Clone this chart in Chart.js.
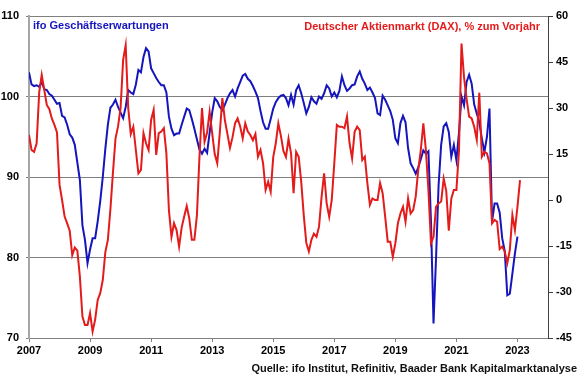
<!DOCTYPE html>
<html>
<head>
<meta charset="utf-8">
<script src="https://cdn.jsdelivr.net/npm/chart.js@4.4.0/dist/chart.umd.min.js"></script>
<style>
    body { margin: 0; background: #fff; }
    #wrap { width: 580px; height: 376px; }
</style>
</head>
<body>
<div id="wrap"><canvas id="chart" width="580" height="376"></canvas></div>
<script>
// Monatswerte ab Januar 2007
const startYear = 2007;

// ifo Geschäftserwartungen (linke Achse)
const ifoExpectations = [
    103.0, 101.5, 101.3, 101.4, 101.2, 101.8, 100.9, 100.8, 100.3, 100.1, 99.6, 99.1,
    99.2, 97.6, 97.4, 96.5, 95.3, 94.9, 94.0, 91.8, 89.6, 84.0, 82.2, 79.3,
    81.0, 82.4, 82.4, 84.5, 87.0, 90.0, 93.5, 96.5, 98.6, 99.0, 99.6, 98.7,
    98.0, 97.3, 98.7, 100.8, 100.5, 100.3, 101.5, 103.3, 103.0, 104.9, 106.0, 105.6,
    103.5, 102.9, 102.3, 101.8, 101.4, 101.4, 100.5, 97.5, 96.0, 95.2, 95.4, 95.4,
    96.5, 97.5, 98.5, 98.3, 97.2, 96.0, 94.7, 93.4, 92.9, 93.5, 93.0, 95.5,
    98.0, 99.8, 99.4, 98.7, 98.3, 99.0, 99.8, 100.4, 100.8, 100.0, 101.0, 101.8,
    102.6, 102.8, 102.2, 101.9, 101.3, 100.6, 99.8, 98.2, 96.8, 96.0, 96.0, 97.2,
    98.5, 99.3, 99.8, 100.1, 100.2, 99.8, 98.9, 100.2, 99.0, 100.8, 101.4, 100.4,
    99.2, 97.9, 98.7, 99.9, 99.4, 99.1, 100.0, 99.7, 100.4, 101.4, 101.0, 100.0,
    100.5, 99.9, 100.7, 102.5, 101.4, 100.7, 101.0, 101.4, 101.5, 102.5, 103.1, 102.2,
    101.6, 100.8, 101.1, 100.5, 99.8, 97.9, 97.7, 100.1, 99.6, 98.9, 98.2, 97.1,
    94.8, 94.2, 96.7, 97.6, 96.8, 93.6, 91.7, 91.1, 90.4, 91.2, 92.2, 93.3,
    92.9, 93.2, 84.5, 71.8, 80.0, 89.0, 94.0, 96.3, 96.7, 95.6, 92.5, 94.0,
    92.1, 95.5, 100.0, 98.9, 101.8, 102.7, 101.6, 99.0, 97.9, 96.8, 94.8, 93.1,
    95.0, 98.5, 84.5, 86.7, 86.7, 85.6, 82.4, 80.8, 75.3, 75.5, 78.0, 80.5,
    82.6
];

// DAX, % zum Vorjahr (rechte Achse)
const daxYoY = [
    21.2, 16.3, 15.7, 18.5, 35.0, 40.8, 35.9, 31.0, 29.6, 26.5, 24.5, 22.0,
    5.0, 0.0, -5.4, -7.6, -10.0, -18.0, -15.5, -16.5, -25.0, -38.0, -40.8, -40.8,
    -36.9, -42.9, -39.0, -32.6, -30.4, -26.1, -17.0, -13.0, -3.0, 9.0, 20.0, 24.0,
    30.0, 45.7, 50.5, 30.0, 21.5, 23.9, 16.3, 8.7, 9.8, 21.8, 18.5, 16.3,
    26.1, 29.4, 14.7, 21.8, 22.3, 23.4, 15.2, -3.3, -12.0, -7.6, -9.8, -15.2,
    -9.0, -5.4, -2.0, -6.0, -13.0, -13.0, -5.0, 14.0, 30.0, 19.0, 22.0, 28.8,
    21.8, 15.0, 12.0, 22.0, 33.2, 26.0, 21.5, 17.0, 20.5, 25.0, 26.6, 24.0,
    20.1, 25.0, 22.3, 21.2, 19.5, 21.5, 14.1, 16.3, 12.0, 3.3, 6.0, 2.7,
    14.0, 18.5, 25.0, 21.0, 16.0, 14.0, 20.0, 15.2, 2.2, 15.7, 14.1, 6.0,
    -5.0, -14.0, -16.8, -13.0, -11.0, -12.0, -8.7, 1.0, 8.7, -1.1, -5.5, 0.0,
    12.0, 24.5, 23.9, 23.9, 23.4, 27.2, 18.5, 13.6, 22.3, 23.9, 22.8, 13.0,
    14.1, 5.5, -1.6, 0.5, 0.0, 0.0, 5.5, 2.2, -5.4, -13.6, -13.6, -18.5,
    -14.1, -7.6, -4.4, -2.2, -7.1, 0.5, -4.4, -3.3, 1.1, 9.8, 16.3, 25.0,
    16.3, 3.3, -14.1, -12.0, -2.2, -1.1, -0.5, 7.0, 3.0, -10.0, 0.5, 3.3,
    3.3, 16.0, 51.0, 40.0, 33.0, 27.2, 26.6, 23.9, 19.6, 35.0, 14.1, 15.7,
    15.2, 12.0, -7.6, -6.5, -7.1, -16.0, -15.2, -16.8, -20.6, -16.3, -4.9, -9.8,
    -2.2, 6.5
];

// Achsenbeschriftungen
const xTickYears = [2007, 2009, 2011, 2013, 2015, 2017, 2019, 2021, 2023];
const leftTicks = [70, 80, 90, 100, 110];
const rightTicks = [-45, -30, -15, 0, 15, 30, 45, 60];

const ifoLabel = "ifo Geschäftserwartungen";
const daxLabel = "Deutscher Aktienmarkt (DAX), % zum Vorjahr";
const sourceText = "Quelle: ifo Institut, Refinitiv, Baader Bank Kapitalmarktanalyse";

const BLUE = "#1515bd";
const RED = "#e31b1b";
const tickFont = { family: "'Liberation Sans', Arial, sans-serif", size: 11, weight: "bold" };

// Monatsindex -> Punkt
const toPoints = values => values.map((v, i) => ({ x: i, y: v }));

// Serientitel im Diagramm und Quellenangabe
const textPlugin = {
    id: "chartTexts",
    afterDraw(chart) {
        const ctx = chart.ctx;
        const area = chart.chartArea;
        ctx.save();
        ctx.font = "bold 11px 'Liberation Sans', Arial, sans-serif";
        ctx.textBaseline = "alphabetic";

        ctx.fillStyle = BLUE;
        ctx.textAlign = "left";
        ctx.fillText(ifoLabel, area.left + 4, area.top + 13);

        ctx.fillStyle = RED;
        ctx.textAlign = "right";
        ctx.fillText(daxLabel, area.right - 8, area.top + 14);

        ctx.fillStyle = "#111";
        ctx.fillText(sourceText, chart.width - 3, chart.height - 4);
        ctx.restore();
    }
};

new Chart(document.getElementById("chart"), {
    type: "line",
    data: {
        datasets: [
            {
                label: daxLabel,
                data: toPoints(daxYoY),
                yAxisID: "yRight",
                borderColor: RED,
                borderWidth: 2,
                pointRadius: 0,
                tension: 0
            },
            {
                label: ifoLabel,
                data: toPoints(ifoExpectations),
                yAxisID: "yLeft",
                borderColor: BLUE,
                borderWidth: 2,
                pointRadius: 0,
                tension: 0
            }
        ]
    },
    options: {
        responsive: false,
        animation: false,
        layout: { padding: { top: 16, left: 0, right: 0, bottom: 0 } },
        plugins: {
            legend: { display: false },
            tooltip: { enabled: false }
        },
        scales: {
            x: {
                type: "linear",
                min: 0,
                max: 204,
                afterBuildTicks: scale => {
                    scale.ticks = xTickYears.map(y => ({ value: (y - startYear) * 12 }));
                },
                afterFit: scale => { scale.height = 38; },
                ticks: {
                    callback: v => String(startYear + v / 12),
                    font: tickFont,
                    color: "#000",
                    maxRotation: 0,
                    autoSkip: false,
                    padding: 2
                },
                grid: { drawOnChartArea: false, tickLength: 4, color: "#808080" },
                border: { color: "#808080", width: 1 }
            },
            yLeft: {
                position: "left",
                min: 70,
                max: 110,
                afterBuildTicks: scale => {
                    scale.ticks = leftTicks.map(v => ({ value: v }));
                },
                afterFit: scale => { scale.width = 29; },
                ticks: { font: tickFont, color: "#000", padding: 7 },
                grid: { color: "#7f7f7f", lineWidth: 1, tickLength: 3 },
                border: { color: "#a6a6a6", width: 2 }
            },
            yRight: {
                position: "right",
                min: -45,
                max: 60,
                afterBuildTicks: scale => {
                    scale.ticks = rightTicks.map(v => ({ value: v }));
                },
                afterFit: scale => { scale.width = 32; },
                ticks: { font: tickFont, color: "#000", padding: 3 },
                grid: { drawOnChartArea: false, tickLength: 5, color: "#404040" },
                border: { color: "#404040", width: 1 }
            }
        }
    },
    plugins: [textPlugin]
});
</script>
</body>
</html>
